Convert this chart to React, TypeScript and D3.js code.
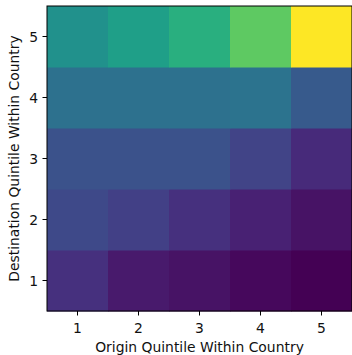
import React from 'react';
import * as d3 from 'd3';

// origin quintile along x, destination quintile along y
const origins = [1, 2, 3, 4, 5];
const destinations = [1, 2, 3, 4, 5];

// relative transition intensity, rows = destination 1..5, cols = origin 1..5
const dest1 = [0.14, 0.07, 0.05, 0.02, 0.0];
const dest2 = [0.22, 0.19, 0.14, 0.09, 0.05];
const dest3 = [0.25, 0.25, 0.25, 0.2, 0.12];
const dest4 = [0.37, 0.37, 0.37, 0.38, 0.28];
const dest5 = [0.5, 0.56, 0.63, 0.75, 1.0];
const grid = [dest1, dest2, dest3, dest4, dest5];

export default function App() {
  const width = 352;
  const height = 355;
  const margin = { top: 6, left: 47 };
  const size = 305;

  const x = d3.scaleBand<number>().domain(origins).range([margin.left, margin.left + size]);
  const y = d3.scaleBand<number>().domain(destinations.slice().reverse()).range([margin.top, margin.top + size]);
  const all = grid.flat();
  const color = d3.scaleSequential(d3.interpolateViridis).domain([d3.min(all)!, d3.max(all)!]);

  const cells = grid.flatMap((row, i) =>
    row.map((v, j) => (
      <rect key={i + '-' + j} x={x(origins[j])} y={y(destinations[i])}
            width={x.bandwidth() + 0.5} height={y.bandwidth() + 0.5} fill={color(v)} />
    ))
  );

  const bottom = margin.top + size;
  const font = 'DejaVu Sans, sans-serif';
  const fs = 13.9;

  return (
    <svg width={width} height={height} style={{ position: 'absolute', left: 0, top: 0 }}>
      <rect width={width} height={height} fill="#fff" />
      {cells}
      <rect x={margin.left} y={margin.top} width={size} height={size} fill="none" stroke="#000" strokeWidth={1} />
      {origins.map(o => {
        const cx = x(o)! + x.bandwidth() / 2;
        return (
          <g key={'x' + o}>
            <line x1={cx} x2={cx} y1={bottom} y2={bottom + 4.5} stroke="#000" />
            <text x={cx} y={bottom + 22} textAnchor="middle" fontSize={fs} fontFamily={font} fill="#111">{o}</text>
          </g>
        );
      })}
      {destinations.map(d => {
        const cy = y(d)! + y.bandwidth() / 2;
        return (
          <g key={'y' + d}>
            <line x1={margin.left - 4.5} x2={margin.left} y1={cy} y2={cy} stroke="#000" />
            <text x={margin.left - 9} y={cy + 5} textAnchor="end" fontSize={fs} fontFamily={font} fill="#111">{d}</text>
          </g>
        );
      })}
      <text x={margin.left + size / 2} y={352} textAnchor="middle" fontSize={fs} fontFamily={font} fill="#111">
        Origin Quintile Within Country
      </text>
      <text transform={`translate(19,${margin.top + size / 2}) rotate(-90)`} textAnchor="middle" fontSize={fs} fontFamily={font} fill="#111">
        Destination Quintile Within Country
      </text>
    </svg>
  );
}
